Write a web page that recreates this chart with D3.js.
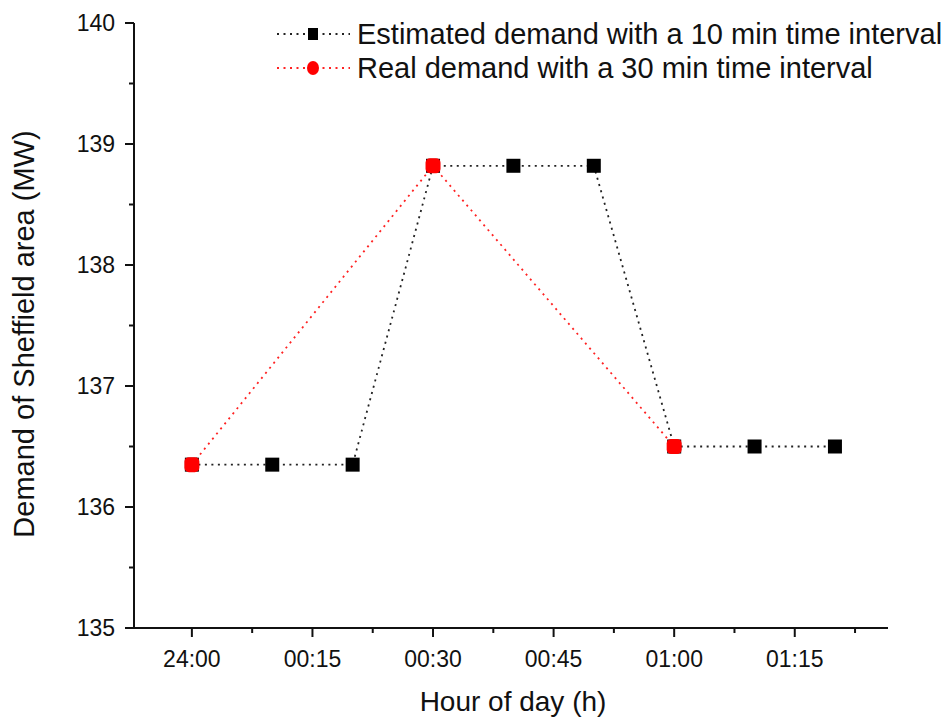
<!DOCTYPE html>
<html>
<head>
<meta charset="utf-8">
<script src="https://cdn.jsdelivr.net/npm/d3@7"></script>
<style>
  body { margin: 0; background: #fff; }
  text { font-family: "Liberation Sans", Arial, sans-serif; fill: #111; }
</style>
</head>
<body>
<div id="chart"></div>
<script>
// minutes after midnight
const est_times = [0, 10, 20, 30, 40, 50, 60, 70, 80];
const est_values = [136.35, 136.35, 136.35, 138.82, 138.82, 138.82, 136.5, 136.5, 136.5];
const real_times = [0, 30, 60];
const real_values = [136.35, 138.82, 136.5];
const x_tick_values = [0, 15, 30, 45, 60, 75];
const x_tick_labels = ['24:00', '00:15', '00:30', '00:45', '01:00', '01:15'];
const y_tick_values = [135, 136, 137, 138, 139, 140];
const legend_labels = ['Estimated demand with a 10 min time interval', 'Real demand with a 30 min time interval'];

const width = 949, height = 722;
const svg = d3.select('#chart').append('svg')
    .attr('width', width)
    .attr('height', height);

const x = d3.scaleLinear().domain([-7.2, 86.6]).range([134, 888]);
const y = d3.scaleLinear().domain([135, 140]).range([628, 23]);

// x axis
const x_axis = svg.append('g').attr('transform', 'translate(0,628)');
x_axis.append('line')
    .attr('x1', x.range()[0]).attr('x2', x.range()[1])
    .attr('stroke', '#111').attr('stroke-width', 2);
x_axis.selectAll('.major').data(x_tick_values).enter().append('line')
    .attr('x1', d => x(d)).attr('x2', d => x(d))
    .attr('y1', 0).attr('y2', 9)
    .attr('stroke', '#111').attr('stroke-width', 2);
x_axis.selectAll('.minor').data(x_tick_values.map(d => d + 7.5)).enter().append('line')
    .attr('x1', d => x(d)).attr('x2', d => x(d))
    .attr('y1', 0).attr('y2', 5)
    .attr('stroke', '#111').attr('stroke-width', 2);
x_axis.selectAll('.lbl').data(x_tick_values).enter().append('text')
    .attr('x', d => x(d)).attr('y', 39)
    .attr('text-anchor', 'middle')
    .attr('font-size', '23px')
    .text((d, i) => x_tick_labels[i]);

// y axis
const y_axis = svg.append('g').attr('transform', 'translate(134,0)');
y_axis.append('line')
    .attr('y1', y.range()[0] + 1).attr('y2', y.range()[1])
    .attr('stroke', '#111').attr('stroke-width', 2);
y_axis.selectAll('.major').data(y_tick_values).enter().append('line')
    .attr('y1', d => y(d)).attr('y2', d => y(d))
    .attr('x1', 0).attr('x2', -9)
    .attr('stroke', '#111').attr('stroke-width', 2);
y_axis.selectAll('.minor').data(y_tick_values.slice(0, -1).map(d => d + 0.5)).enter().append('line')
    .attr('y1', d => y(d)).attr('y2', d => y(d))
    .attr('x1', 0).attr('x2', -5)
    .attr('stroke', '#111').attr('stroke-width', 2);
y_axis.selectAll('.lbl').data(y_tick_values).enter().append('text')
    .attr('x', -19).attr('y', d => y(d))
    .attr('text-anchor', 'end')
    .attr('dominant-baseline', 'central')
    .attr('font-size', '23px')
    .text(d => d);

// axis titles
svg.append('text')
    .attr('x', 513).attr('y', 711)
    .attr('text-anchor', 'middle')
    .attr('font-size', '28px')
    .text('Hour of day (h)');
svg.append('text')
    .attr('transform', 'translate(34,334) rotate(-90)')
    .attr('text-anchor', 'middle')
    .attr('font-size', '29px')
    .text('Demand of Sheffield area (MW)');

// series
const est = est_times.map((t, i) => ({t: t, v: est_values[i]}));
const real = real_times.map((t, i) => ({t: t, v: real_values[i]}));
const line = d3.line().x(d => x(d.t)).y(d => y(d.v));

svg.append('path').datum(est)
    .attr('d', line)
    .attr('fill', 'none')
    .attr('stroke', '#222')
    .attr('stroke-width', 1.8)
    .attr('stroke-dasharray', '2,4.5');
svg.append('path').datum(real)
    .attr('d', line)
    .attr('fill', 'none')
    .attr('stroke', '#f22')
    .attr('stroke-width', 1.8)
    .attr('stroke-dasharray', '2,4.5');

svg.selectAll('.sq').data(est).enter().append('rect')
    .attr('x', d => x(d.t) - 7).attr('y', d => y(d.v) - 7)
    .attr('width', 14).attr('height', 14)
    .attr('fill', '#000');
svg.selectAll('.dot').data(real).enter().append('rect')
    .attr('x', d => x(d.t) - 7.5).attr('y', d => y(d.v) - 7.5)
    .attr('width', 15).attr('height', 15)
    .attr('rx', 4.5)
    .attr('fill', '#f00');

// legend
const legend = svg.append('g');
const rows = [
    {label: legend_labels[0], color: '#222', shape: 'square', yy: 34},
    {label: legend_labels[1], color: '#f22', shape: 'circle', yy: 68}
];
rows.forEach(r => {
    legend.append('line')
        .attr('x1', 277).attr('x2', 350)
        .attr('y1', r.yy).attr('y2', r.yy)
        .attr('stroke', r.color)
        .attr('stroke-width', 1.8)
        .attr('stroke-dasharray', '2,4.5');
    if (r.shape === 'square') {
        legend.append('rect')
            .attr('x', 313 - 5).attr('y', r.yy - 6)
            .attr('width', 10).attr('height', 12)
            .attr('fill', '#000');
    } else {
        legend.append('ellipse')
            .attr('cx', 313).attr('cy', r.yy)
            .attr('rx', 6).attr('ry', 7)
            .attr('fill', '#f00');
    }
    legend.append('text')
        .attr('x', 357).attr('y', r.yy)
        .attr('dominant-baseline', 'central')
        .attr('font-size', '29px')
        .text(r.label);
});
</script>
</body>
</html>
